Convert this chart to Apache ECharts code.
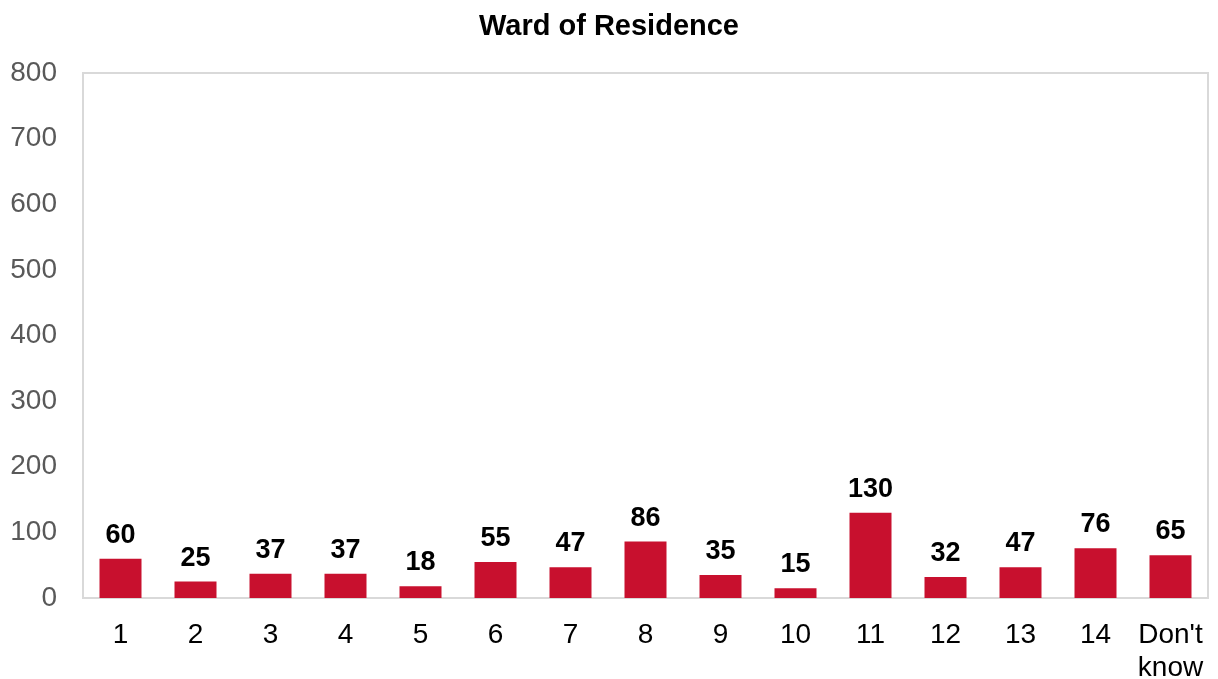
<!DOCTYPE html>
<html>
<head>
<meta charset="utf-8">
<script src="https://cdn.jsdelivr.net/npm/echarts@6/dist/echarts.min.js"></script>
<style>
  html, body { margin: 0; padding: 0; background: #fff; }
  #chart { width: 1218px; height: 679px; }
</style>
</head>
<body>
<div id="chart"></div>
<script>
// 类目与数值
const wards = ['1', '2', '3', '4', '5', '6', '7', '8', '9', '10', '11', '12', '13', '14', "Don't\nknow"];
const counts = [60, 25, 37, 37, 18, 55, 47, 86, 35, 15, 130, 32, 47, 76, 65];
const yTicks = { min: 0, max: 800, interval: 100 };

const chart = echarts.init(document.getElementById('chart'));
const option = {
  animation: false,
  textStyle: { fontFamily: 'Liberation Sans, Arial, sans-serif' },
  title: {
    text: 'Ward of Residence',
    left: 'center',
    top: 7,
    textStyle: { fontSize: 29, fontWeight: 'bold', color: '#000' },
  },
  grid: {
    left: 83,
    right: 10,
    top: 73,
    bottom: 81,
    outerBoundsMode: 'none',
    show: true,
    borderColor: '#d9d9d9',
    borderWidth: 2,
  },
  xAxis: {
    type: 'category',
    data: wards,
    axisLine: { lineStyle: { color: '#d9d9d9', width: 2 } },
    axisTick: { show: false },
    axisLabel: {
      color: '#000',
      fontSize: 28,
      margin: 21,
      lineHeight: 33,
      interval: 0,
    },
  },
  yAxis: {
    type: 'value',
    min: yTicks.min,
    max: yTicks.max,
    interval: yTicks.interval,
    splitLine: { show: false },
    axisLine: { show: false },
    axisLabel: { color: '#595959', fontSize: 28, margin: 26 },
  },
  series: [
    {
      type: 'bar',
      data: counts,
      barWidth: 42,
      itemStyle: { color: '#C8102E' },
      label: {
        show: true,
        position: 'top',
        distance: 10,
        color: '#000',
        fontSize: 27,
        fontWeight: 'bold',
      },
    },
  ],
};
chart.setOption(option);
</script>
</body>
</html>
